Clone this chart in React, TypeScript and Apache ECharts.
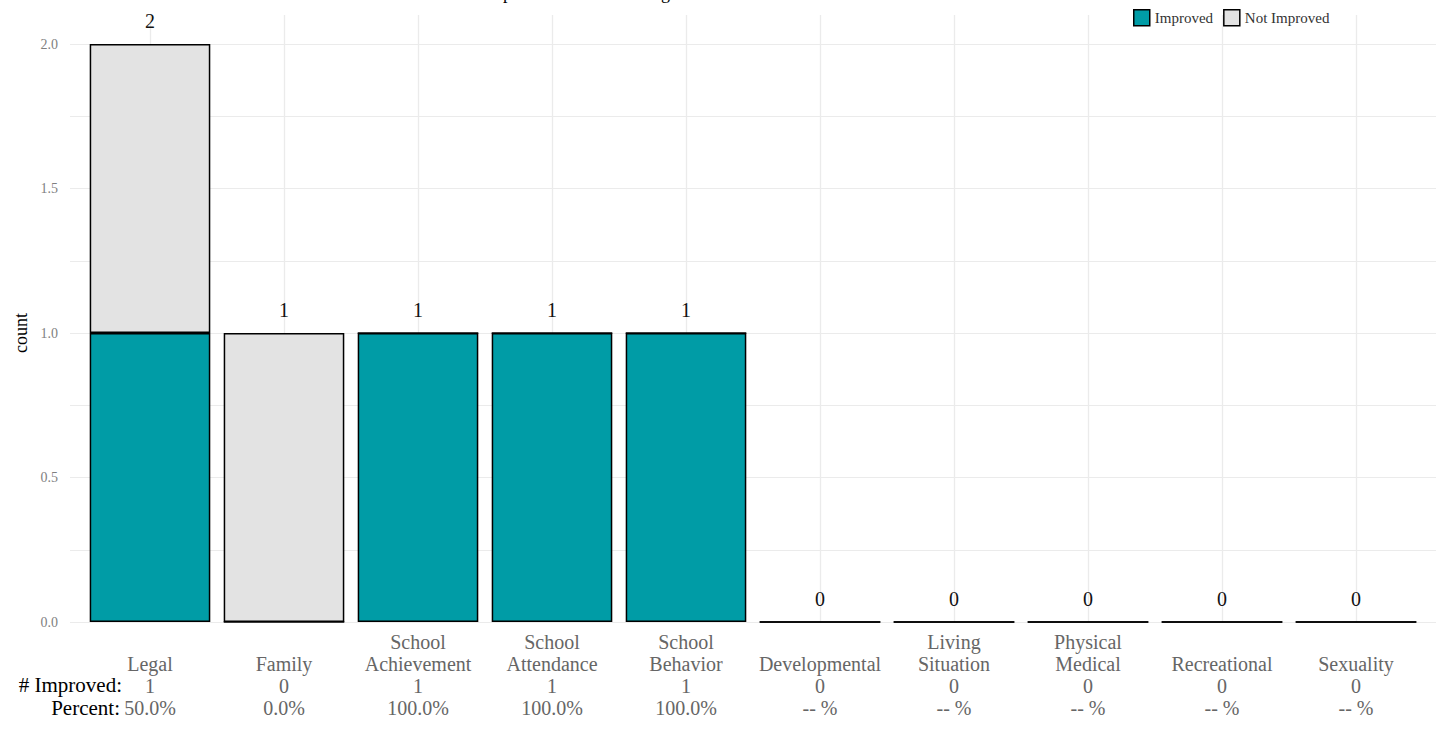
import React, { useEffect, useRef } from "react";
import * as echarts from "echarts";

const categories = [
  "Legal",
  "Family",
  "School\nAchievement",
  "School\nAttendance",
  "School\nBehavior",
  "Developmental",
  "Living\nSituation",
  "Physical\nMedical",
  "Recreational",
  "Sexuality",
];
const improved = [1, 0, 1, 1, 1, 0, 0, 0, 0, 0];
const notImproved = [1, 1, 0, 0, 0, 0, 0, 0, 0, 0];
const yTicks = [0, 0.5, 1, 1.5, 2];
const titleText = "Improvement Across Targets";

const FONT = "Liberation Serif, DejaVu Serif, serif";
const TEAL = "#009ca6";
const GREY = "#e3e3e3";
const GRID = "#ebebeb";

export default function App() {
  const ref = useRef<HTMLDivElement>(null);
  useEffect(() => {
    if (!ref.current) return;
    const chart = echarts.init(ref.current, undefined, { renderer: "svg" });
    const totals = categories.map((_, i) => improved[i] + notImproved[i]);
    const labelFor = (name: string) => {
      const i = categories.indexOf(name);
      const pct = totals[i] > 0 ? ((improved[i] / totals[i]) * 100).toFixed(1) + "%" : "-- %";
      return name + "\n" + improved[i] + "\n" + pct;
    };
    const half = categories.flatMap((c, i) => (i === 0 ? ["e0", c + "_c", c + "_r"] : [c + "_c", c + "_r"]));
    const bm = 109;
    chart.setOption({
      animation: false,
      textStyle: { fontFamily: FONT },
      legend: {
        data: ["Improved", "Not Improved"],
        left: 1128,
        top: 4,
        itemWidth: 16,
        itemHeight: 16,
        itemGap: 10,
        icon: "rect",
        itemStyle: { borderColor: "#000", borderWidth: 1.5 },
        textStyle: { fontFamily: FONT, fontSize: 15, color: "#333", padding: [0, 0, 0, 0] },
      },
      grid: [
        { left: 83, right: 19, top: 44, bottom: bm },
        { left: 70, right: 6, top: 44, bottom: bm },
        { left: 83, right: 19, top: 15, bottom: bm },
      ],
      xAxis: [
        {
          type: "category",
          gridIndex: 0,
          data: categories,
          axisLine: { show: false },
          axisTick: { show: false },
          splitLine: { show: false },
          axisLabel: {
            interval: 0,
            margin: 97,
            verticalAlign: "bottom",
            fontFamily: FONT,
            fontSize: 20,
            lineHeight: 22,
            color: "#666",
            formatter: (v: string) => labelFor(v),
          },
        },
        { type: "value", gridIndex: 1, show: false },
        {
          type: "category",
          gridIndex: 2,
          boundaryGap: false,
          data: [...half.slice(0, 21)],
          axisLine: { show: false },
          axisTick: { show: false },
          axisLabel: { show: false },
          splitLine: {
            show: true,
            interval: (idx: number) => idx % 2 === 1,
            lineStyle: { color: GRID, width: 1.3 },
          },
        },
      ],
      yAxis: [
        { type: "value", gridIndex: 0, min: 0, max: 2, show: false },
        {
          type: "value",
          gridIndex: 1,
          min: 0,
          max: 2,
          interval: 0.25,
          name: "count",
          nameLocation: "middle",
          nameGap: 36,
          nameTextStyle: { fontFamily: FONT, fontSize: 18, color: "#000" },
          axisLine: { show: false },
          axisTick: { show: false },
          splitLine: { show: true, lineStyle: { color: GRID, width: 1.2 } },
          axisLabel: {
            margin: 12,
            fontFamily: FONT,
            fontSize: 14,
            color: "#7f7f7f",
            formatter: (v: number) => (yTicks.some((t) => Math.abs(t - v) < 1e-9) ? v.toFixed(1) : ""),
          },
        },
        { type: "value", gridIndex: 2, min: 0, max: 2.1, show: false },
      ],
      series: [
        {
          name: "Improved",
          type: "bar",
          stack: "a",
          xAxisIndex: 0,
          yAxisIndex: 0,
          barWidth: "90%",
          data: improved,
          z: 3,
          itemStyle: { color: TEAL, borderColor: "#000", borderWidth: 1.5 },
        },
        {
          name: "Not Improved",
          type: "bar",
          stack: "a",
          xAxisIndex: 0,
          yAxisIndex: 0,
          barWidth: "90%",
          data: notImproved,
          z: 3,
          itemStyle: { color: GREY, borderColor: "#000", borderWidth: 1.5 },
        },
        {
          name: "Total",
          type: "bar",
          stack: "a",
          xAxisIndex: 0,
          yAxisIndex: 0,
          barWidth: "90%",
          data: categories.map(() => 0),
          z: 4,
          itemStyle: { color: "rgba(0,0,0,0)", borderWidth: 0 },
          label: {
            show: true,
            position: "top",
            distance: 13,
            fontFamily: FONT,
            fontSize: 20,
            color: "#111",
            formatter: (p: any) => String(totals[p.dataIndex]),
          },
        },
      ],
      graphic: [
        {
          type: "text",
          left: 483,
          top: -16,
          style: { text: titleText, fontFamily: FONT, fontSize: 18, fill: "#000" },
        },
        {
          type: "text",
          x: 122,
          y: 685,
          style: {
            text: "# Improved:",
            fontFamily: FONT,
            fontSize: 21,
            fill: "#000",
            align: "right",
            verticalAlign: "middle",
          },
        },
        {
          type: "text",
          x: 120,
          y: 708,
          style: {
            text: "Percent:",
            fontFamily: FONT,
            fontSize: 21,
            fill: "#000",
            align: "right",
            verticalAlign: "middle",
          },
        },
      ],
    });
    return () => chart.dispose();
  }, []);
  return <div ref={ref} style={{ width: 1442, height: 731, position: "absolute", left: 0, top: 0 }} />;
}
